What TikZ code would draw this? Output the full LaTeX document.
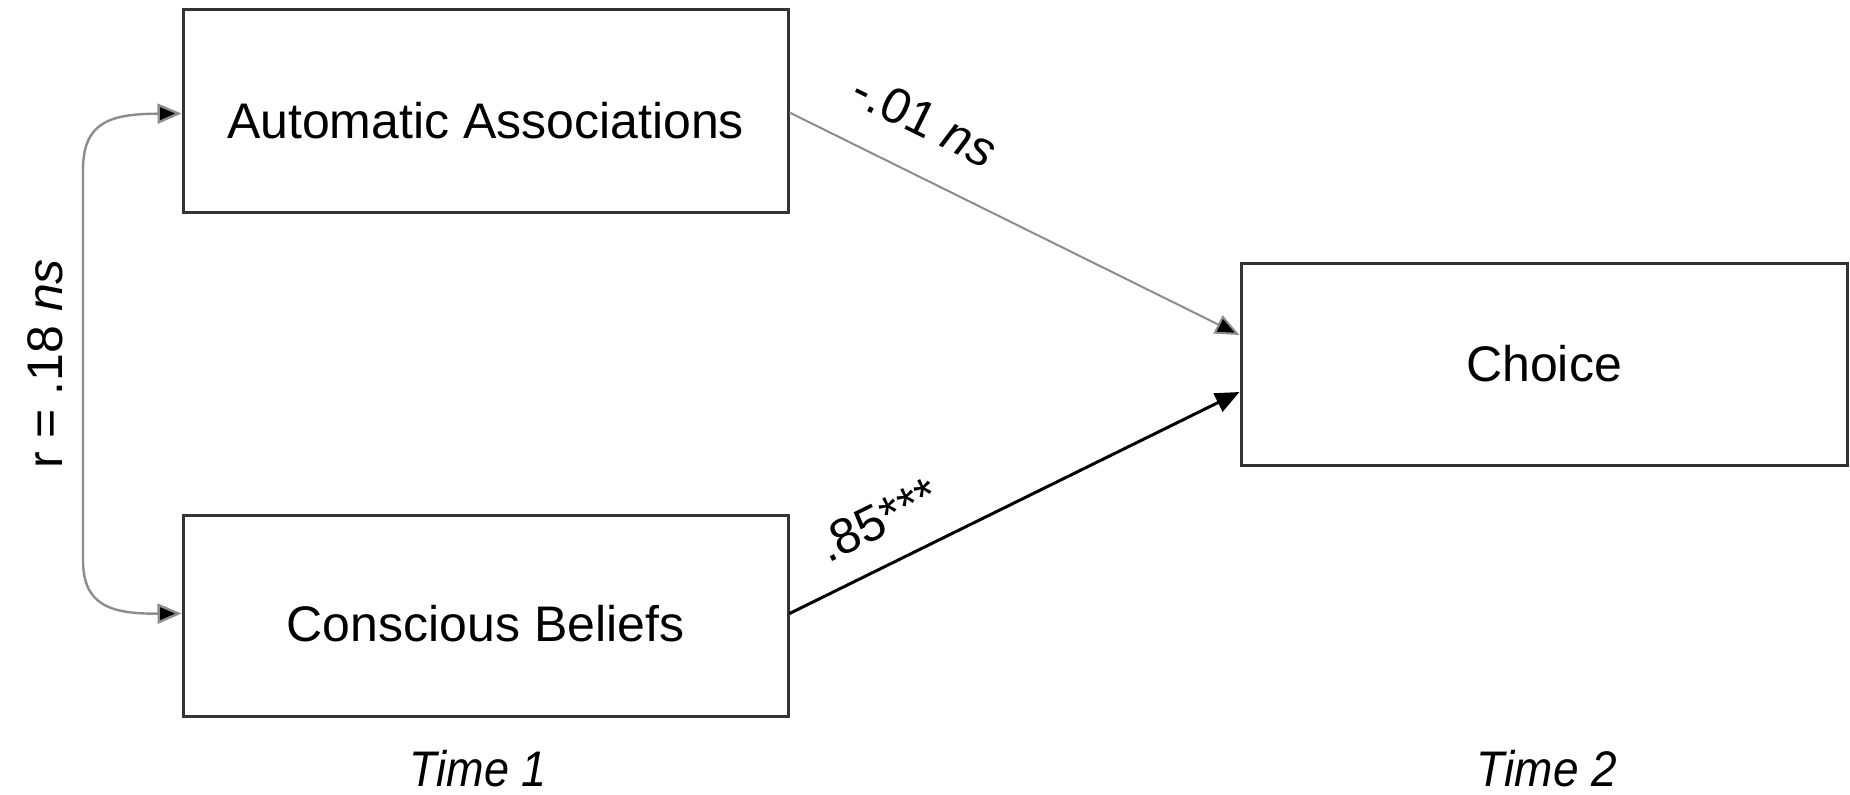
\documentclass[tikz,border=0pt]{standalone}
\usepackage{fontspec}
\setmainfont{Liberation Sans}
\usetikzlibrary{arrows.meta}
\tikzset{
  box/.style={draw=black!80, line width=1.5pt, fill=white, inner sep=0pt,
    font=\fontsize{25}{30}\selectfont},
  lbl/.style={font=\fontsize{25}{30}\selectfont, inner sep=0pt},
  lightarrow/.style={draw=black!45, line width=1pt, -{Triangle[length=12pt,width=10pt,fill=black]}},
  darkarrow/.style={draw=black, line width=1.5pt, -{Triangle[length=12pt,width=10pt]}},
  corrarrow/.style={draw=black!45, line width=1.2pt, {Triangle[length=12pt,width=10pt,fill=black]}-{Triangle[length=12pt,width=10pt,fill=black]}},
}
\begin{document}
\begin{tikzpicture}[x=0.5pt,y=-0.5pt]
\useasboundingbox (0,0) rectangle (1850,794);
\node[box, minimum width=302.5pt, minimum height=101.5pt] (auto) at (485.5,110.5) {\raisebox{-14pt}[0pt][0pt]{Automatic Associations}};
\node[box, minimum width=302.5pt, minimum height=100.5pt] (cons) at (485.5,615.5) {\raisebox{-13pt}[0pt][0pt]{Conscious Beliefs}};
\node[box, minimum width=303pt, minimum height=101pt] (choice) at (1544,364) {Choice};

\draw[lightarrow] ([yshift=-1pt]auto.east) -- ([yshift=14.5pt]choice.west);
\draw[darkarrow] ([yshift=1pt]cons.east) -- ([yshift=-14pt]choice.west);

\coordinate (c1) at (83,170);
\coordinate (c2) at (83,560);
\draw[corrarrow] ([yshift=-1.5pt]auto.west) .. controls (110,114) and (83,122) .. (c1) -- (c2) .. controls (83,605) and (110,614) .. ([yshift=1pt]cons.west);

\node[lbl, rotate=90] (r) at (45,364) {r = .18 \textit{ns}};
\node[lbl, rotate=-26.2] (l1) at (925,120) {-.01 \textit{ns}};
\node[lbl, rotate=26.05] (l2) at (878,520) {.85***};
\node[lbl, xscale=0.9] (t1) at (478,769) {\textit{Time 1}};
\node[lbl, xscale=0.92] (t2) at (1547,769) {\textit{Time 2}};
\end{tikzpicture}
\end{document}
